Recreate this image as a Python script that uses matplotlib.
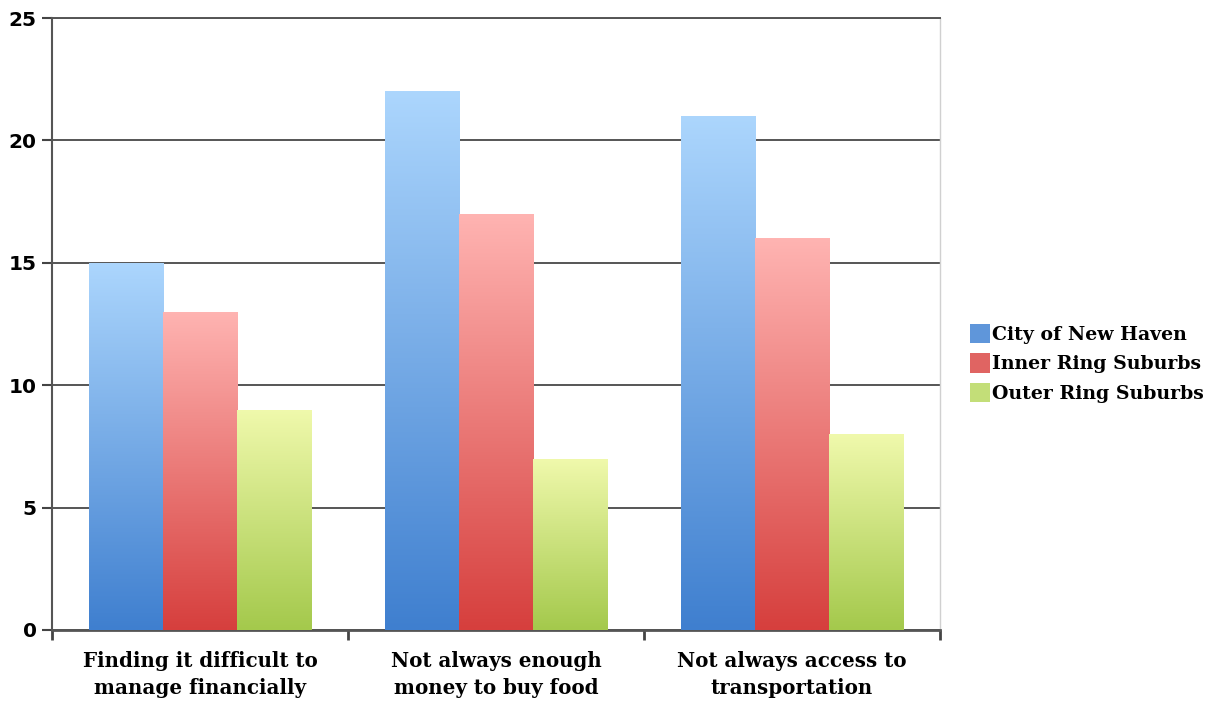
import numpy as np
import matplotlib.pyplot as plt
from matplotlib.colors import LinearSegmentedColormap
from matplotlib.patches import Patch

categories = ["Finding it difficult to\nmanage financially",
              "Not always enough\nmoney to buy food",
              "Not always access to\ntransportation"]
series = ["City of New Haven", "Inner Ring Suburbs", "Outer Ring Suburbs"]
city = [15, 22, 21]
inner = [13, 17, 16]
outer = [9, 7, 8]

# (bottom colour, top colour) for gradient fill
grads = [("#3f7fcf", "#acd6fd"),
         ("#d63f3d", "#ffb4b2"),
         ("#a4c94c", "#f0f9ac")]
legend_cols = ["#5f96da", "#e06462", "#c3de78"]

plt.rcParams['font.family'] = ['DejaVu Serif']

fig = plt.figure(figsize=(12.15, 7.07), dpi=100)
ax = fig.add_axes([0.0428, 0.109, 0.7309, 0.8655])

x = np.arange(len(categories))
w = 0.25
grad = np.linspace(0, 1, 256).reshape(-1, 1)
for i, vals in enumerate([city, inner, outer]):
    bars = ax.bar(x + (i - 1) * w, vals, w, color="none", zorder=3)
    cmap = LinearSegmentedColormap.from_list("g%d" % i, list(grads[i]))
    for b in bars:
        x0, y0 = b.get_x(), b.get_y()
        im = ax.imshow(grad, cmap=cmap, origin="lower", aspect="auto",
                       extent=[x0, x0 + b.get_width(), y0, y0 + b.get_height()],
                       zorder=3)
        im.set_clip_path(b)

ax.set_xlim(-0.5, 2.5)
ax.set_ylim(0, 25)
ax.set_yticks([0, 5, 10, 15, 20, 25])
ax.set_xticks(x)
ax.set_xticklabels(categories, fontsize=14.3, fontweight="bold", linespacing=1.45)
ax.set_xticks([-0.5, 0.5, 1.5, 2.5], minor=True)
ax.tick_params(axis="x", which="major", length=0, pad=15)
ax.tick_params(axis="x", which="minor", length=7, width=2, color="#444444")
ax.tick_params(axis="y", length=7, width=1.5, color="#444444", labelsize=14.5, pad=4)
for lab in ax.get_yticklabels():
    lab.set_fontweight("bold")
    lab.set_family("DejaVu Sans")

ax.grid(axis="y", color="#555555", linewidth=1.4, zorder=0)
ax.set_axisbelow(True)
ax.spines["left"].set_color("#555555")
ax.spines["left"].set_linewidth(1.5)
ax.spines["bottom"].set_color("#555555")
ax.spines["bottom"].set_linewidth(2)
ax.spines["top"].set_color("#555555")
ax.spines["top"].set_linewidth(1.4)
ax.spines["right"].set_color("#d0d0d0")
ax.spines["right"].set_linewidth(1)

handles = [Patch(facecolor=c, edgecolor="none") for c in legend_cols]
leg = fig.legend(handles, series, loc="center left", bbox_to_anchor=(0.792, 0.486),
                 frameon=False, fontsize=13.6, handlelength=1.05, handleheight=1.2,
                 handletextpad=0.12, labelspacing=0.5, borderaxespad=0)
for t in leg.get_texts():
    t.set_fontweight("bold")

fig.savefig("out.png", dpi=100)
